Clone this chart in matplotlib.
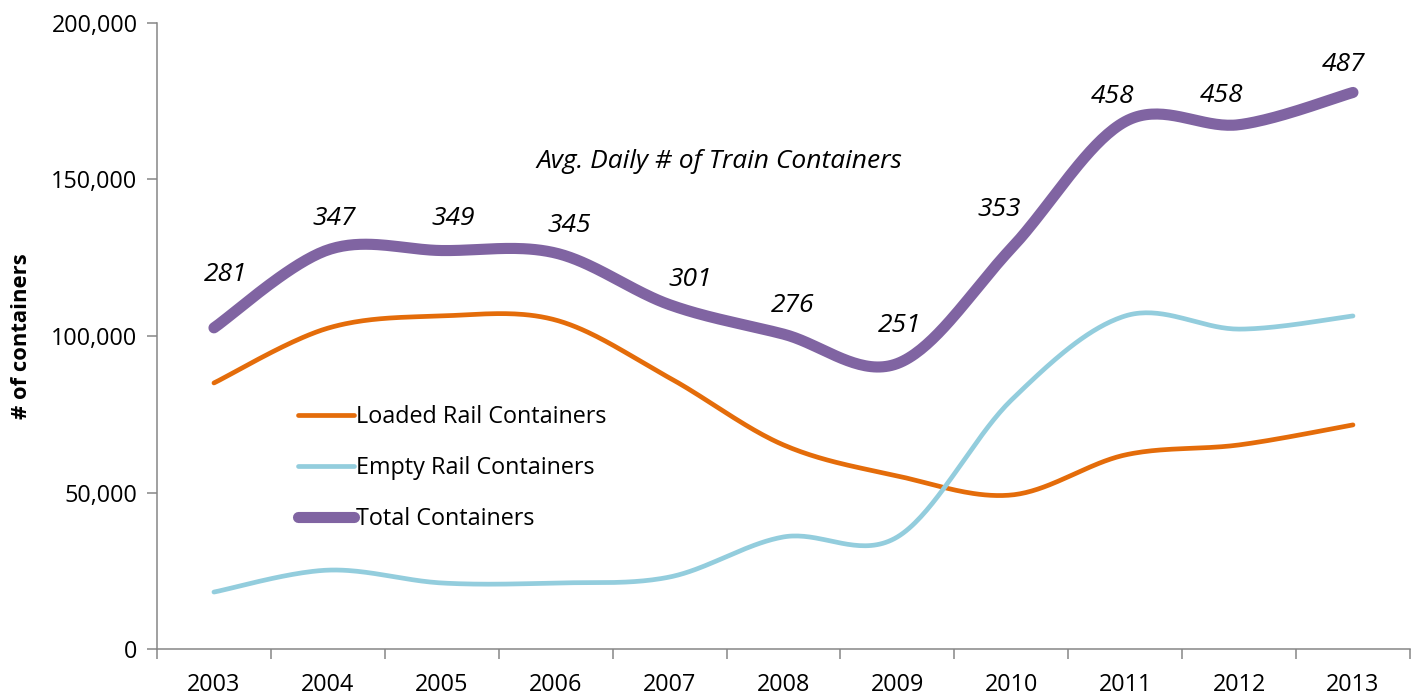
import numpy as np
import matplotlib
matplotlib.use("Agg")
import matplotlib.pyplot as plt
from matplotlib.ticker import FuncFormatter, FixedLocator

plt.rcParams['font.family'] = ['Open Sans', 'DejaVu Sans']

years = ['2003', '2004', '2005', '2006', '2007', '2008', '2009', '2010', '2011', '2012', '2013']
loaded = [85000, 102500, 106400, 105100, 86600, 65200, 55300, 49200, 62000, 65200, 71600]
empty = [18200, 25200, 21100, 21100, 23000, 35800, 35800, 79500, 106400, 102200, 106400]
total = [102600, 127500, 127300, 126500, 110000, 100600, 91200, 128000, 168500, 167500, 177800]
daily_avg = ['281', '347', '349', '345', '301', '276', '251', '353', '458', '458', '487']

# label nudges in pixels (dx, dy) to sit like the original
label_nudge = [(12, 53), (6, 31), (11, 32), (14, 28), (21, 25), (9, 29),
               (2, 38), (-12, 39), (-13, 25), (-18, 29), (-9, 28)]


def smooth(xs, ys, n=40):
    # Excel-style smoothed line: cubic bezier, catmull-rom control points
    xs = np.asarray(xs, float)
    ys = np.asarray(ys, float)
    px = np.concatenate([[xs[0]], xs, [xs[-1]]])
    py = np.concatenate([[ys[0]], ys, [ys[-1]]])
    out_x, out_y = [], []
    t = np.linspace(0, 1, n)
    for i in range(1, len(px) - 2):
        p0 = np.array([px[i], py[i]])
        p3 = np.array([px[i + 1], py[i + 1]])
        c1 = p0 + (p3 - np.array([px[i - 1], py[i - 1]])) / 6
        c2 = p3 - (np.array([px[i + 2], py[i + 2]]) - p0) / 6
        b = ((1 - t) ** 3)[:, None] * p0 + (3 * (1 - t) ** 2 * t)[:, None] * c1 \
            + (3 * (1 - t) * t ** 2)[:, None] * c2 + (t ** 3)[:, None] * p3
        out_x.extend(b[:, 0])
        out_y.extend(b[:, 1])
    return np.array(out_x), np.array(out_y)


fig = plt.figure(figsize=(14.17, 6.96), dpi=100)
ax = fig.add_axes([0.1108, 0.0675, 0.8842, 0.8995])

x = np.arange(len(years))
sx, sy = smooth(x, loaded)
ax.plot(sx, sy, color='#E46C0A', lw=3.4, solid_capstyle='round', label='Loaded Rail Containers')
sx, sy = smooth(x, empty)
ax.plot(sx, sy, color='#93CDDD', lw=3.4, solid_capstyle='round', label='Empty Rail Containers')
sx, sy = smooth(x, total)
ax.plot(sx, sy, color='#8064A2', lw=8, solid_capstyle='round', label='Total Containers')

for i, lab in enumerate(daily_avg):
    ax.annotate(lab, (x[i], total[i]), xytext=label_nudge[i], textcoords='offset pixels',
                ha='center', va='center', fontsize=19, style='italic')

ax.text(0.449, 0.778, 'Avg. Daily # of Train Containers', transform=ax.transAxes,
        ha='center', va='center', fontsize=19, style='italic')

ax.set_xlim(-0.5, len(years) - 0.5)
ax.set_ylim(0, 200000)
ax.set_yticks(np.arange(0, 200001, 50000))
ax.yaxis.set_major_formatter(FuncFormatter(lambda v, p: f'{int(v):,}'))
ax.set_xticks(x)
ax.set_xticklabels(years)
ax.xaxis.set_minor_locator(FixedLocator(np.arange(-0.5, len(years), 1)))
ax.tick_params(axis='x', which='major', length=0, labelsize=16.8, pad=17)
ax.tick_params(axis='x', which='minor', length=7, width=1.1, color='#868686')
ax.tick_params(axis='y', length=7, width=1.1, color='#868686', labelsize=16.8, pad=7)

for s in ['top', 'right']:
    ax.spines[s].set_visible(False)
for s in ['left', 'bottom']:
    ax.spines[s].set_color('#868686')
    ax.spines[s].set_linewidth(1.1)

ax.set_ylabel('# of containers', fontsize=15.8, fontweight='bold', labelpad=14)

ax.legend(loc='upper left', bbox_to_anchor=(0.105, 0.404), frameon=False, fontsize=16.8,
          handlelength=2.4, handletextpad=0.1, labelspacing=1.15, borderaxespad=0)

fig.savefig('out.png', dpi=100)
